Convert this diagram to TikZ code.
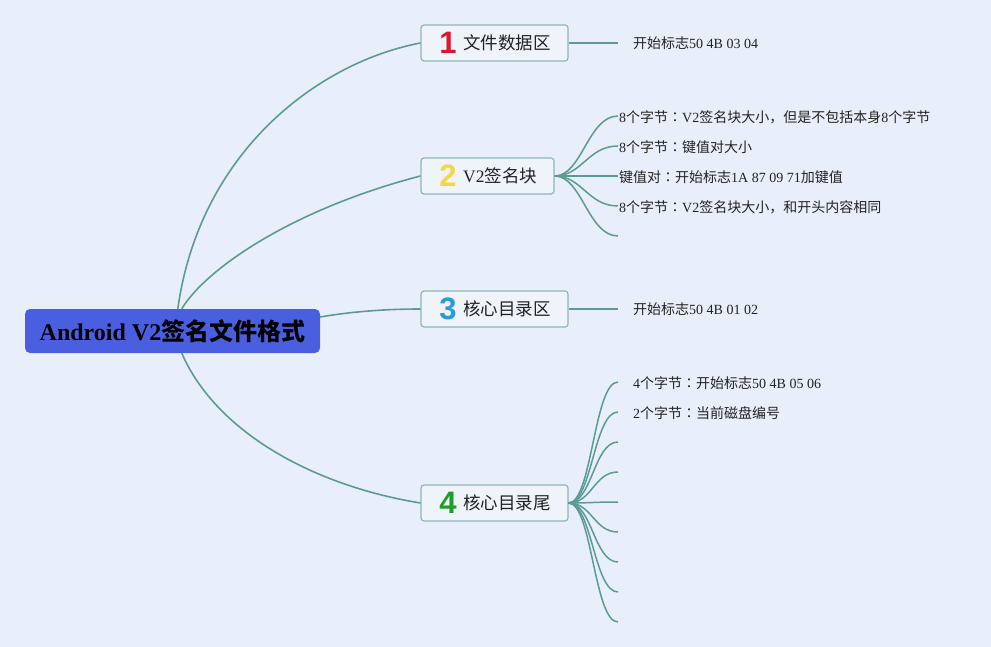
\documentclass[tikz,border=0pt]{standalone}
\usepackage{fontspec}
\setmainfont{Liberation Serif}
\newfontfamily\cjk{Noto Sans CJK SC}
\newfontfamily\cjkjp{Noto Sans CJK JP}
\newfontfamily\digitfont{Liberation Sans}
\newcommand\zh[1]{{\cjk #1}}
\newcommand\zcolon{{\cjkjp ：}}
\usetikzlibrary{calc}
\definecolor{bg}{HTML}{E9EEFB}
\definecolor{rootblue}{HTML}{4A5FE0}
\definecolor{boxfill}{HTML}{EFF4FA}
\definecolor{boxline}{HTML}{8DB6B8}
\definecolor{link}{HTML}{5C9A96}
\definecolor{dred}{HTML}{E0142E}
\definecolor{dyellow}{HTML}{F3D64A}
\definecolor{dblue}{HTML}{2A9AE0}
\definecolor{dgreen}{HTML}{1E9E2A}
\definecolor{txt}{HTML}{222222}
\begin{document}
\begin{tikzpicture}[x=1pt,y=-1pt,
  rootbox/.style={fill=rootblue,rounded corners=5pt,minimum width=295pt,minimum height=44pt,inner sep=0pt,text=black,font=\fontsize{24}{26}\selectfont\bfseries},
  branchbox/.style={draw=boxline,line width=1.2pt,fill=boxfill,rounded corners=3pt,minimum height=36pt,inner sep=0pt},
  digit/.style={inner sep=0pt,font=\digitfont\bfseries\fontsize{31}{31}\selectfont},
  btext/.style={anchor=west,inner sep=0pt,text=txt,font=\fontsize{17.5}{20}\selectfont},
  leaf/.style={anchor=west,inner sep=0pt,text=txt,font=\fontsize{14}{16}\selectfont},
  conn/.style={draw=link,line width=1.6pt},
  fan/.style={draw=link,line width=1.5pt}
]
\fill[bg] (0,0) rectangle (991,647);
\useasboundingbox (0,0) rectangle (991,647);

% root
\node[rootbox] (root) at (172.5,331) {Android V2\zh{签名文件格式}};

% branch boxes
\node[branchbox,minimum width=147pt] (b1) at (494.5,43) {};
\node[branchbox,minimum width=133pt] (b2) at (487.5,176) {};
\node[branchbox,minimum width=147pt] (b3) at (494.5,309) {};
\node[branchbox,minimum width=147pt] (b4) at (494.5,503) {};

\node[digit,text=dred] (d1) at (448,43) {1};
\node[btext] (t1) at (463,43) {\zh{文件数据区}};
\node[digit,text=dyellow] (d2) at (448,176) {2};
\node[btext] (t2) at (463,176) {V2\zh{签名块}};
\node[digit,text=dblue] (d3) at (448,309) {3};
\node[btext] (t3) at (463,309) {\zh{核心目录区}};
\node[digit,text=dgreen] (d4) at (448,503) {4};
\node[btext] (t4) at (463,503) {\zh{核心目录尾}};

% root connectors
\draw[conn] ([xshift=153pt]root.north west) .. controls (200,150) and (320,62) .. (b1.west);
\draw[conn] ([xshift=157pt]root.north west) .. controls (205,270) and (290,210) .. (b2.west);
\draw[conn] ([yshift=-4pt]root.north east |- 0,313) .. controls (355,311) and (390,309) .. (b3.west);
\draw[conn] ([xshift=157pt]root.south west) .. controls (215,430) and (310,485) .. (b4.west);

% branch 1 leaf
\coordinate (e1) at (618,43);
\draw[fan] (b1.east) -- (e1);
\node[leaf] (l1) at (633,43) {\zh{开始标志}50 4B 03 04};

% branch 2 leaves
\foreach \y [count=\i] in {116,146,176,206,236}{
  \coordinate (e2\i) at (618,\y);
  \draw[fan] (b2.east) .. controls (582,176) and (588,\y) .. (e2\i);
}
\node[leaf] (l21) at (619,117) {8\zh{个字节}\zcolon V2\zh{签名块大小，但是不包括本身}8\zh{个字节}};
\node[leaf] (l22) at (619,147) {8\zh{个字节}\zcolon\zh{键值对大小}};
\node[leaf] (l23) at (619,177) {\zh{键值对}\zcolon\zh{开始标志}1A 87 09 71\zh{加键值}};
\node[leaf] (l24) at (619,207) {8\zh{个字节}\zcolon V2\zh{签名块大小，和开头内容相同}};

% branch 3 leaf
\coordinate (e3) at (618,309);
\draw[fan] (b3.east) -- (e3);
\node[leaf] (l3) at (633,309) {\zh{开始标志}50 4B 01 02};

% branch 4 leaves
\foreach \y [count=\i] in {382,412,442,472,502,532,562,592,622}{
  \coordinate (e4\i) at (618,\y);
  \draw[fan] (b4.east) .. controls (592,503) and (594,\y) .. (e4\i);
}
\node[leaf] (l41) at (633,383) {4\zh{个字节}\zcolon\zh{开始标志}50 4B 05 06};
\node[leaf] (l42) at (633,413) {2\zh{个字节}\zcolon\zh{当前磁盘编号}};
\end{tikzpicture}
\end{document}
